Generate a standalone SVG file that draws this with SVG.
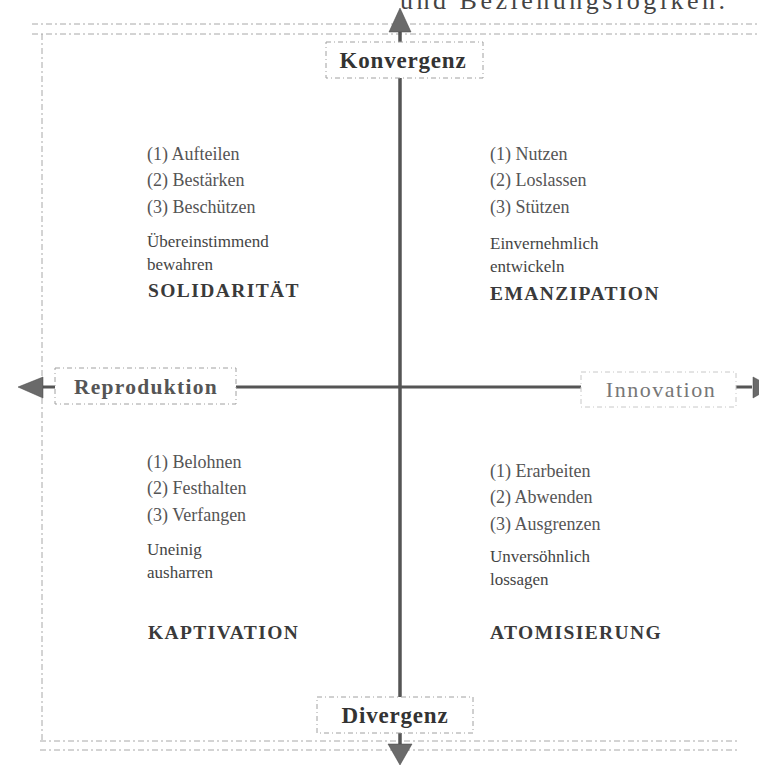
<svg xmlns="http://www.w3.org/2000/svg" width="759" height="765" viewBox="0 0 759 765">
<defs>
<style>
.frame{fill:none;stroke:#a8a8a8;stroke-width:1;stroke-dasharray:6 3 2 3}
.box{fill:#fff;stroke:#a0a0a0;stroke-width:1;stroke-dasharray:5 3 1 3}
.axis{stroke:#555;stroke-width:3.5;fill:none}
.head{fill:#6a6a6a;stroke:#444;stroke-width:0.5}
.lbl{font-family:"Liberation Serif","Times New Roman",serif;font-size:23px;font-weight:bold;fill:#333;letter-spacing:0.8px}
.item{font-family:"Liberation Serif","Times New Roman",serif;font-size:18px;fill:#555}
.desc{font-family:"Liberation Serif","Times New Roman",serif;font-size:17px;fill:#444}
.title{font-family:"Liberation Serif","Times New Roman",serif;font-size:19.5px;font-weight:bold;fill:#3a3a3a;letter-spacing:1.4px}
</style>
</defs>
<rect width="759" height="765" fill="#fff"/>
<text x="400" y="9" style="font-family:'Liberation Serif',serif;font-size:26px;fill:#444" textLength="325">und Beziehungslogiken.</text>
<g id="frame">
<line class="frame" x1="32" y1="24" x2="757" y2="24"/>
<line class="frame" x1="32" y1="34" x2="757" y2="34"/>
<line class="frame" x1="42" y1="34" x2="42" y2="741"/>
<line class="frame" x1="40" y1="741" x2="740" y2="741"/>
<line class="frame" x1="40" y1="750" x2="740" y2="750"/>
</g>
<g id="connectors">
<line class="axis" x1="400" y1="30" x2="400" y2="746"/>
<polygon class="head" points="400,8 411,32 389,32"/>
<polygon class="head" points="400,765 412,744 388,744"/>
<line class="axis" x1="42" y1="387" x2="752" y2="387" style="stroke-width:3"/>
<polygon class="head" points="18,387 43,377 43,398"/>
<polygon class="head" points="772,387 753,377 753,398"/>
</g>
<g id="konvergenz">
<rect class="box" x="326" y="42" width="157" height="36"/>
<text class="lbl" x="403" y="68" text-anchor="middle">Konvergenz</text>
</g>
<g id="divergenz">
<rect class="box" x="317" y="697" width="156" height="36"/>
<text class="lbl" x="395" y="723" text-anchor="middle">Divergenz</text>
</g>
<g id="reproduktion">
<rect class="box" x="55" y="368" width="181" height="36"/>
<text class="lbl" x="146" y="394" text-anchor="middle" style="font-size:21.5px;fill:#555;letter-spacing:1.3px">Reproduktion</text>
</g>
<g id="innovation">
<rect class="box" x="581" y="372" width="155" height="35" style="stroke:#c8c8c8"/>
<text class="lbl" x="661" y="397" text-anchor="middle" style="font-size:22px;font-weight:normal;fill:#777;letter-spacing:1.5px">Innovation</text>
</g>
<g id="solidaritaet">
<text class="item" x="147" y="160">(1) Aufteilen</text>
<text class="item" x="147" y="186">(2) Bestärken</text>
<text class="item" x="147" y="213">(3) Beschützen</text>
<text class="desc" x="147" y="247">Übereinstimmend</text>
<text class="desc" x="147" y="270">bewahren</text>
<text class="title" x="148" y="297">SOLIDARITÄT</text>
</g>
<g id="emanzipation">
<text class="item" x="490" y="160">(1) Nutzen</text>
<text class="item" x="490" y="186">(2) Loslassen</text>
<text class="item" x="490" y="213">(3) Stützen</text>
<text class="desc" x="490" y="249">Einvernehmlich</text>
<text class="desc" x="490" y="272">entwickeln</text>
<text class="title" x="490" y="300">EMANZIPATION</text>
</g>
<g id="kaptivation">
<text class="item" x="147" y="468">(1) Belohnen</text>
<text class="item" x="147" y="494">(2) Festhalten</text>
<text class="item" x="147" y="521">(3) Verfangen</text>
<text class="desc" x="147" y="555">Uneinig</text>
<text class="desc" x="147" y="578">ausharren</text>
<text class="title" x="148" y="639">KAPTIVATION</text>
</g>
<g id="atomisierung">
<text class="item" x="490" y="477">(1) Erarbeiten</text>
<text class="item" x="490" y="503">(2) Abwenden</text>
<text class="item" x="490" y="530">(3) Ausgrenzen</text>
<text class="desc" x="490" y="562">Unversöhnlich</text>
<text class="desc" x="490" y="585">lossagen</text>
<text class="title" x="490" y="639">ATOMISIERUNG</text>
</g>
</svg>
